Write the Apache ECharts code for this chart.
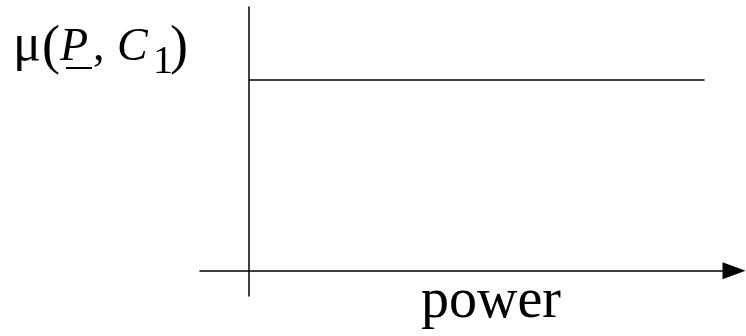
<!DOCTYPE html>
<html>
<head>
<meta charset="utf-8">
<script src="https://cdn.jsdelivr.net/npm/echarts/dist/echarts.min.js"></script>
<style>
  html, body { margin: 0; padding: 0; background: #ffffff; }
  #chart { width: 746px; height: 336px; }
</style>
</head>
<body>
<div id="chart"></div>
<script>
// Membership of the power variable in class C1: a flat level across the range.
const powerValues = [0, 93];
const membershipValues = [76, 76];
const powerRange = [-10, 99];
const membershipRange = [-10, 105];
const xTitle = 'power';

const SERIF = '"Liberation Serif", "Times New Roman", serif';

// Place a text piece by its left edge and alphabetic baseline.
function textPiece(text, x, baseline, size, italic) {
  return {
    type: 'text',
    x: x,
    y: baseline - 0.34 * size,
    silent: true,
    style: {
      text: text,
      font: (italic ? 'italic ' : '') + size + 'px ' + SERIF,
      fill: '#000000',
      align: 'left',
      verticalAlign: 'middle'
    }
  };
}

const chart = echarts.init(document.getElementById('chart'), null, { renderer: 'canvas' });

chart.setOption({
  animation: false,
  backgroundColor: '#ffffff',
  grid: { left: 200, right: 12, top: 7, bottom: 40 },
  xAxis: {
    type: 'value',
    min: powerRange[0],
    max: powerRange[1],
    axisLine: {
      show: true,
      onZero: true,
      symbol: ['none', 'triangle'],
      symbolSize: [17, 23],
      lineStyle: { color: '#000000', width: 1.5 }
    },
    axisTick: { show: false },
    axisLabel: { show: false },
    splitLine: { show: false }
  },
  yAxis: {
    type: 'value',
    min: membershipRange[0],
    max: membershipRange[1],
    axisLine: {
      show: true,
      onZero: true,
      lineStyle: { color: '#000000', width: 1.5 }
    },
    axisTick: { show: false },
    axisLabel: { show: false },
    splitLine: { show: false }
  },
  series: [{
    type: 'line',
    data: powerValues.map((p, i) => [p, membershipValues[i]]),
    symbol: 'none',
    lineStyle: { color: '#000000', width: 1.5 }
  }],
  graphic: [
    // μ(P, C1) with P underlined
    textPiece('\u03BC', 13, 64, 52, false),
    textPiece('(', 42, 67, 54, false),
    textPiece('P', 60, 64, 46, true),
    {
      type: 'line',
      silent: true,
      shape: { x1: 66, y1: 68, x2: 92, y2: 68 },
      style: { stroke: '#000000', lineWidth: 2 }
    },
    textPiece(',', 93, 64, 46, false),
    textPiece('C', 117, 64, 46, true),
    textPiece('1', 153, 76, 40, false),
    textPiece(')', 170, 67, 54, false),
    textPiece(xTitle, 421, 321, 56, false)
  ]
});
</script>
</body>
</html>
